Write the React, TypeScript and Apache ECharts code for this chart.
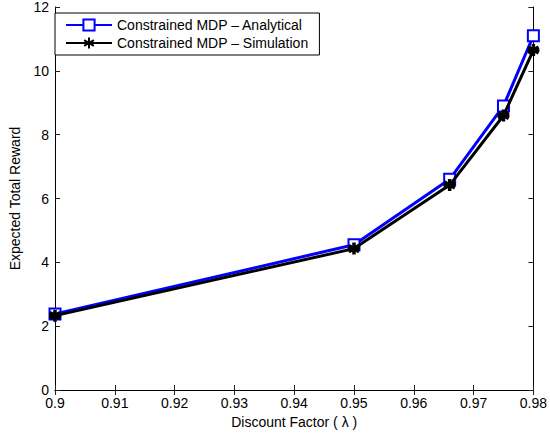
import React, { useEffect, useRef } from "react";
import * as echarts from "echarts";

const discount = [0.9, 0.95, 0.966, 0.975, 0.98];
const analytical = [2.38, 4.55, 6.6, 8.9, 11.1];
const simulation = [2.33, 4.43, 6.42, 8.6, 10.65];
const xTicks = [0.9, 0.91, 0.92, 0.93, 0.94, 0.95, 0.96, 0.97, 0.98];
const yTicks = [0, 2, 4, 6, 8, 10, 12];

const asterisk =
  "path://M0,-1L0,1M-0.87,-0.5L0.87,0.5M-0.87,0.5L0.87,-0.5M-1,0L1,0";

export default function App() {
  const ref = useRef<HTMLDivElement>(null);
  useEffect(() => {
    const chart = echarts.init(ref.current!, null, { renderer: "svg" });
    const font = "Liberation Sans";
    const axisCommon = {
      axisLine: { lineStyle: { color: "#000", width: 1 } },
      axisTick: { inside: true, length: 5, lineStyle: { color: "#222" } },
      splitLine: { show: false },
    };
    chart.setOption({
      animation: false,
      backgroundColor: "#fff",
      textStyle: { fontFamily: font },
      grid: { left: 49, right: 15, top: 7, bottom: 44 },
      legend: {
        orient: "vertical",
        left: 55,
        top: 13,
        backgroundColor: "#fff",
        borderColor: "#000",
        borderWidth: 1,
        borderRadius: 0,
        padding: [5, 11, 5, 10],
        itemGap: 4,
        itemWidth: 46,
        itemHeight: 14,
        textStyle: { fontFamily: font, fontSize: 14, color: "#000" },
        data: ["Constrained MDP \u2013 Analytical", "Constrained MDP \u2013 Simulation"],
      },
      xAxis: [
        {
          type: "value",
          min: 0.9,
          max: 0.98,
          interval: 0.01,
          name: "Discount Factor ( \u03bb )",
          nameLocation: "middle",
          nameGap: 23,
          nameTextStyle: { fontFamily: font, fontSize: 14, color: "#000" },
          axisLabel: {
            color: "#000",
            fontSize: 14,
            margin: 6,
            customValues: xTicks,
            formatter: (v: number) => String(Math.round(v * 100) / 100),
          },
          axisTick: { inside: true, length: 5, lineStyle: { color: "#222" }, customValues: xTicks },
          axisLine: axisCommon.axisLine,
          splitLine: { show: false },
        },
        {
          type: "value",
          position: "top",
          min: 0.9,
          max: 0.98,
          interval: 0.01,
          axisLabel: { show: false },
          ...axisCommon,
        },
      ],
      yAxis: [
        {
          type: "value",
          min: 0,
          max: 12,
          interval: 2,
          name: "Expected Total Reward",
          nameLocation: "middle",
          nameGap: 33,
          nameTextStyle: { fontFamily: font, fontSize: 14, color: "#000" },
          axisLabel: { color: "#000", fontSize: 14, margin: 6, customValues: yTicks },
          ...axisCommon,
        },
        {
          type: "value",
          position: "right",
          min: 0,
          max: 12,
          interval: 2,
          axisLabel: { show: false },
          ...axisCommon,
        },
      ],
      series: [
        {
          name: "Constrained MDP \u2013 Analytical",
          type: "line",
          data: discount.map((x, i) => [x, analytical[i]]),
          symbol: "emptyRect",
          symbolSize: 11,
          lineStyle: { color: "#0000ff", width: 3 },
          itemStyle: { color: "#0000ff", borderColor: "#0000ff", borderWidth: 2 },
          z: 2,
        },
        {
          name: "Constrained MDP \u2013 Simulation",
          type: "line",
          data: discount.map((x, i) => [x, simulation[i]]),
          symbol: asterisk,
          symbolSize: 12,
          lineStyle: { color: "#000", width: 3 },
          itemStyle: { color: "#000", borderColor: "#000", borderWidth: 3.5 },
          z: 3,
        },
      ],
    });
    return () => chart.dispose();
  }, []);
  return <div ref={ref} style={{ width: 550, height: 434, position: "absolute", left: 0, top: 0 }} />;
}
